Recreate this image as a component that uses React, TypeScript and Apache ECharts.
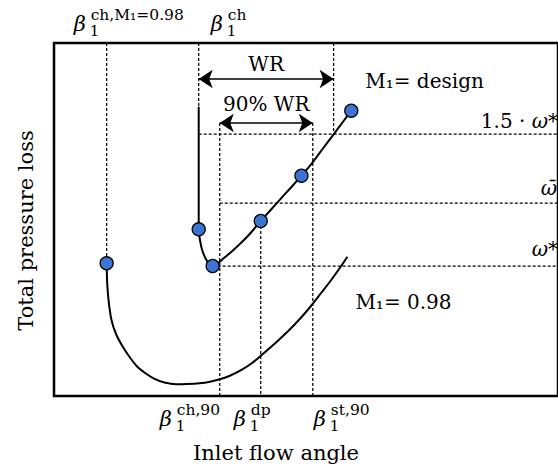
import React, { useEffect, useRef } from "react";
import * as echarts from "echarts";

const FONT = '"DejaVu Serif", serif';

// Loss characteristic at design Mach number (inlet flow angle, total pressure loss), schematic units
const designAngle = [149.3, 149.3, 149.3, 149.3, 149.3, 150.8, 153, 156.7, 160, 163.7, 176, 188.5, 201, 213.3, 224, 234.3, 245, 255.3, 266, 277.5, 289.3, 298, 306.7];
const designLoss = [289.3, 250, 210, 185, 166.7, 155, 145.5, 137, 132.5, 130, 138.5, 149, 161, 175, 186.5, 197.7, 209, 220.3, 232.7, 247.5, 262.7, 274, 285.3];
// Loss characteristic at M1 = 0.98
const chokeAngle = [54.3, 55, 56.5, 59.3, 64, 70.5, 78, 86, 94, 102.7, 114, 126, 137, 150, 161, 171, 182, 193, 204, 214.3, 229, 242.7, 255, 266, 276, 286, 294.5, 302.7];
const chokeLoss = [132.7, 111, 94, 76, 62, 50, 39, 29.3, 23, 17.7, 13.5, 11.7, 11.9, 12.7, 14.3, 16.7, 20.5, 25.8, 32.7, 41, 53.5, 66, 78.5, 91, 103.5, 116, 127.5, 139.3];
// Marked operating points
const markerAngle = [149.3, 163.7, 213.3, 255.3, 306.7, 54.3];
const markerLoss = [166.7, 130, 175, 220.3, 285.3, 132.7];

// Characteristic inlet angles
const betaChM098 = 54.3;
const betaCh = 149.3;
const betaCh90 = 171;
const betaDp = 213.3;
const betaSt90 = 267;
const betaWrEnd = 288.5;
// Loss levels
const omegaStar = 130;
const omegaBar = 193;
const omega15 = 262;
// Working-range arrow levels
const wrLevel = 317;
const wr90Level = 273;
const designTop = 289.3;
// Axis ranges
const angleMin = 0;
const angleMax = 520;
const lossMin = 0;
const lossMax = 353;

// Texts
const topTickSups = ["ch,M₁=0.98", "ch"];
const bottomTickSups = ["ch,90", "dp", "st,90"];
const xAxisName = "Inlet flow angle";
const yAxisName = "Total pressure loss";
const designLabel = "M₁= design";
const chokeLabel = "M₁= 0.98";

function buildOption() {
  const dashedSegs: number[][][] = [
    [[betaChM098, lossMax], [betaChM098, markerLoss[5]]],
    [[betaCh, lossMax], [betaCh, designTop]],
    [[betaWrEnd, lossMax], [betaWrEnd, omega15]],
    [[betaCh90, wr90Level], [betaCh90, lossMin]],
    [[betaDp, markerLoss[2]], [betaDp, lossMin]],
    [[betaSt90, wr90Level], [betaSt90, lossMin]],
    [[betaCh, omega15], [angleMax, omega15]],
    [[betaCh90, omegaBar], [angleMax, omegaBar]],
    [[markerAngle[1], omegaStar], [angleMax, omegaStar]],
  ];
  const dashedSeries = dashedSegs.map((seg, i) => {
    const s: any = {
      type: "line",
      data: seg,
      symbol: "none",
      silent: true,
      z: 1,
      lineStyle: { color: "#000", width: 1.25, type: [3, 2] },
    };
    if (i === 0) {
      s.markLine = {
        silent: true,
        symbol: ["arrow", "arrow"],
        symbolSize: 14,
        label: { show: false },
        emphasis: { disabled: true },
        lineStyle: { color: "#000", width: 1.5, type: "solid" },
        data: [
          [{ coord: [betaCh, wrLevel] }, { coord: [betaWrEnd, wrLevel] }],
          [{ coord: [betaCh90, wr90Level] }, { coord: [betaSt90, wr90Level] }],
        ],
      };
    }
    return s;
  });

  return {
    animation: false,
    grid: {
      left: 54,
      top: 43,
      width: 520,
      height: 353,
      show: true,
      borderColor: "#000",
      borderWidth: 2.5,
      backgroundColor: "transparent",
    },
    xAxis: {
      type: "value",
      min: angleMin,
      max: angleMax,
      axisLine: { show: false },
      axisTick: { show: false },
      axisLabel: { show: false },
      splitLine: { show: false },
      name: xAxisName,
      nameLocation: "middle",
      nameGap: 46,
      nameTextStyle: { fontFamily: FONT, fontSize: 21, color: "#000", padding: [0, 60, 0, 0] },
    },
    yAxis: {
      type: "value",
      min: lossMin,
      max: lossMax,
      axisLine: { show: false },
      axisTick: { show: false },
      axisLabel: { show: false },
      splitLine: { show: false },
      name: yAxisName,
      nameLocation: "middle",
      nameGap: 18,
      nameTextStyle: { fontFamily: FONT, fontSize: 21, color: "#000", padding: [0, 22, 0, 0] },
    },
    series: [
      ...dashedSeries,
      {
        type: "line",
        name: "design",
        data: designAngle.map((a, i) => [a, designLoss[i]]),
        symbol: "none",
        smooth: 0.3,
        silent: true,
        z: 3,
        lineStyle: { color: "#000", width: 2 },
      },
      {
        type: "line",
        name: "M1=0.98",
        data: chokeAngle.map((a, i) => [a, chokeLoss[i]]),
        symbol: "none",
        smooth: 0.3,
        silent: true,
        z: 3,
        lineStyle: { color: "#000", width: 2 },
      },
      {
        type: "scatter",
        data: markerAngle.map((a, i) => [a, markerLoss[i]]),
        symbol: "circle",
        symbolSize: 13,
        silent: true,
        z: 5,
        itemStyle: { color: "#3d74d3", borderColor: "#000", borderWidth: 1.3, opacity: 1 },
      },
    ],
  };
}

function txt(x: number, y: number, text: string, opts: any = {}) {
  return {
    type: "text",
    x,
    y,
    silent: true,
    z: 10,
    style: {
      text,
      fontFamily: FONT,
      fontSize: opts.fontSize ?? 20,
      fontStyle: opts.fontStyle ?? "normal",
      fill: "#000",
      align: opts.align ?? "left",
      verticalAlign: "middle",
      rich: opts.rich,
    },
  };
}

function betaLabel(left: number, cy: number, sup: string) {
  return {
    type: "group",
    x: left,
    y: cy,
    silent: true,
    children: [
      txt(0, 0, "β", { fontStyle: "italic", fontSize: 21 }),
      txt(16, 7, "1", { fontSize: 15 }),
      txt(17, -9, sup, { fontSize: 15.5 }),
    ],
  };
}

function buildGraphics(chart: any) {
  const px = (x: number, y: number) => chart.convertToPixel({ gridIndex: 0 }, [x, y]) as number[];
  const W = chart.getWidth();
  const g: any[] = [];
  const rich = {
    n: { fontFamily: FONT, fontSize: 20, fill: "#000" },
    i: { fontFamily: FONT, fontSize: 20, fontStyle: "italic", fill: "#000" },
  };

  const wr = px((betaCh + betaWrEnd) / 2, wrLevel);
  g.push(txt(wr[0], wr[1] - 15, "WR", { align: "center" }));
  const wr90 = px((betaCh90 + betaSt90) / 2, wr90Level);
  g.push(txt(wr90[0], wr90[1] - 19, "90% WR", { align: "center" }));

  const dEnd = px(designAngle[designAngle.length - 1], designLoss[designLoss.length - 1]);
  g.push(txt(dEnd[0] + 14, dEnd[1] - 30, designLabel));
  const cEnd = px(chokeAngle[chokeAngle.length - 1], chokeLoss[chokeLoss.length - 1]);
  g.push(txt(cEnd[0] + 8, cEnd[1] + 45, chokeLabel));

  const y15 = px(angleMax, omega15)[1];
  g.push(txt(W, y15 - 13, "{n|1.5 · }{i|ω}{n|*}", { align: "right", rich }));
  const yBar = px(angleMax, omegaBar)[1];
  g.push(txt(W - 1, yBar - 15, "ω̄", { align: "right", fontStyle: "italic" }));
  const yStar = px(angleMax, omegaStar)[1];
  g.push(txt(W, yStar - 17, "{i|ω}{n|*}", { align: "right", rich }));

  // top tick labels
  const topY = 24;
  g.push(betaLabel(px(betaChM098, lossMax)[0] - 33, topY, topTickSups[0]));
  g.push(betaLabel(px(betaCh, lossMax)[0] + 12, topY, topTickSups[1]));
  // bottom tick labels
  const botY = 419;
  g.push(betaLabel(px(betaCh90, lossMin)[0] - 60, botY, bottomTickSups[0]));
  g.push(betaLabel(px(betaDp, lossMin)[0] - 27, botY, bottomTickSups[1]));
  g.push(betaLabel(px(betaSt90, lossMin)[0] + 1, botY, bottomTickSups[2]));
  return g;
}

export default function App() {
  const ref = useRef<HTMLDivElement>(null);
  useEffect(() => {
    const chart = echarts.init(ref.current!, null, { renderer: "svg" });
    chart.setOption(buildOption());
    chart.setOption({ graphic: buildGraphics(chart) });
    return () => chart.dispose();
  }, []);
  return (
    <div
      ref={ref}
      style={{ position: "fixed", left: 0, top: 0, width: 558, height: 470, background: "#fff" }}
    />
  );
}
